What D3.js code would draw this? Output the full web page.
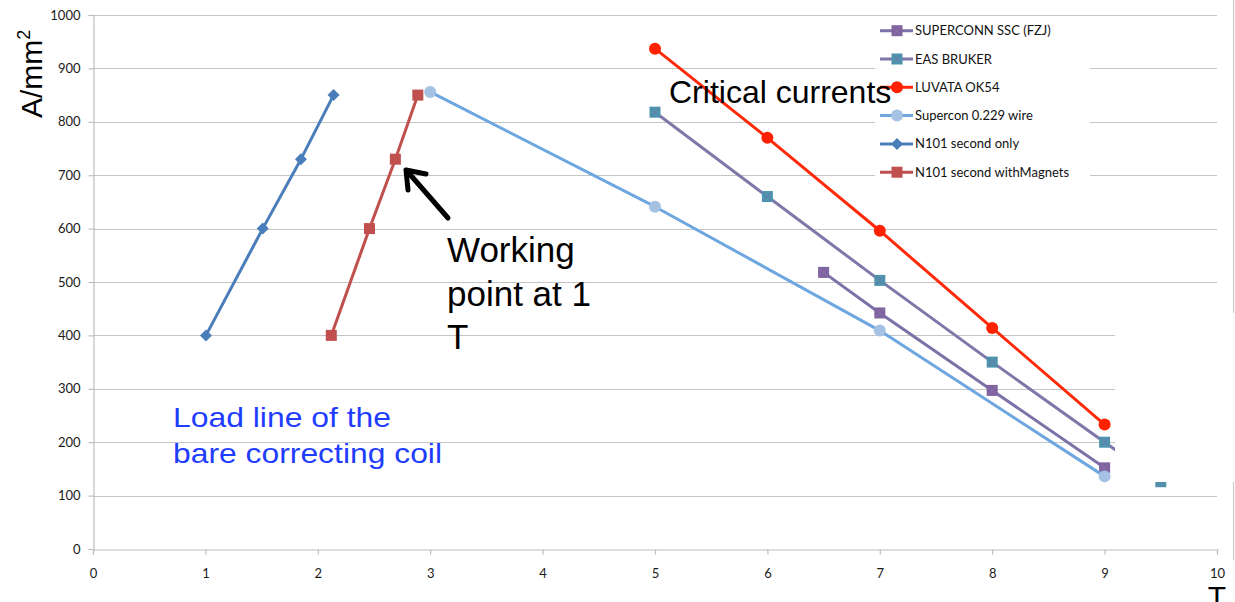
<!DOCTYPE html>
<html><head><meta charset="utf-8">
<script src="https://cdn.jsdelivr.net/npm/d3@7"></script>
<style>
html,body{margin:0;padding:0;background:#fff;}
svg{display:block;}
</style></head>
<body>
<svg id="c" width="1235" height="602"></svg>
<script>
// ---- data ----
const xTicks = [0,1,2,3,4,5,6,7,8,9,10];
const yTicks = [0,100,200,300,400,500,600,700,800,900,1000];
const seriesNames = ["SUPERCONN SSC (FZJ)","EAS BRUKER","LUVATA OK54","Supercon 0.229 wire","N101 second only","N101 second withMagnets"];
const sscX = [6.5, 7, 8, 9];
const sscY = [518, 442, 297, 152];
const easX = [5, 6, 7, 8, 9, 9.5];
const easY = [818, 660, 503, 350, 200, 126];
const luvX = [5, 6, 7, 8, 9];
const luvY = [937, 770, 596, 414, 233];
const supX = [3, 5, 7, 9];
const supY = [856, 641, 409, 136];
const n101X = [1.005, 1.51, 1.85, 2.14];
const n101Y = [400, 600, 730, 850];
const n101mX = [2.12, 2.46, 2.69, 2.89];
const n101mY = [400, 600, 730, 850];

const styles = [
  {line:"#7D72A8", fill:"#7E639F", cross:"#8E74B0", marker:"square"},
  {line:"#7D78A9", fill:"#4B96AE", cross:"#7F6FA8", marker:"square"},
  {line:"#FF2A0A", fill:"#FF2200", marker:"circle"},
  {line:"#6EA7DF", fill:"#A5C1E4", marker:"circle"},
  {line:"#4A7EBB", fill:"#4A7EBB", marker:"diamond"},
  {line:"#C0504D", fill:"#C0504D", marker:"square"}
];
const series = [
  {x:sscX,y:sscY},{x:easX,y:easY},{x:luvX,y:luvY},
  {x:supX,y:supY},{x:n101X,y:n101Y},{x:n101mX,y:n101mY}
].map((s,i)=>({name:seriesNames[i], pts:s.x.map((v,j)=>[v,s.y[j]]), st:styles[i]}));

// ---- chart ----
const svg = d3.select("#c");
const x = d3.scaleLinear().domain([0,10]).range([93,1217]);
const y = d3.scaleLinear().domain([0,1000]).range([549,15]);
const tickFont = "Lato, 'Open Sans', sans-serif";

// gridlines
svg.append("g").selectAll("line").data(yTicks.filter(d=>d>0)).join("line")
  .attr("x1",x(0)).attr("x2",x(10))
  .attr("y1",d=>Math.round(y(d))+0.5).attr("y2",d=>Math.round(y(d))+0.5)
  .attr("stroke","#C4C4C4").attr("stroke-width",1.2);

// axes
const xAxis = svg.append("g").attr("transform",`translate(0,${Math.round(y(0))+0.5})`)
  .call(d3.axisBottom(x).tickValues(xTicks).tickSize(5).tickPadding(14).tickFormat(d3.format("d")));
const yAxis = svg.append("g").attr("transform",`translate(${Math.round(x(0))+0.5},0)`)
  .call(d3.axisLeft(y).tickValues(yTicks).tickSize(5).tickPadding(8).tickFormat(d3.format("d")));
[xAxis,yAxis].forEach(a=>{
  a.select(".domain").attr("stroke","#BEBEBE").attr("stroke-width",1.2);
  a.selectAll(".tick line").attr("stroke","#BEBEBE").attr("stroke-width",1.2);
  a.selectAll(".tick text").attr("fill","#1a1a1a").style("font-family",tickFont).style("font-size","13px");
});

// series
const line = d3.line().x(d=>x(d[0])).y(d=>y(d[1]));
function drawMarker(g, st, cx, cy){
  if(st.marker==="square"){
    g.append("rect").attr("x",cx-5.5).attr("y",cy-5.5).attr("width",11).attr("height",11).attr("fill",st.fill);
    if(st.cross){
      g.append("path").attr("d",`M${cx-4.5},${cy-4.5}L${cx+4.5},${cy+4.5}M${cx+4.5},${cy-4.5}L${cx-4.5},${cy+4.5}`)
        .attr("stroke",st.cross).attr("stroke-width",1).attr("opacity",0.8);
    }
  } else if(st.marker==="circle"){
    g.append("circle").attr("cx",cx).attr("cy",cy).attr("r",6).attr("fill",st.fill);
  } else {
    g.append("path").attr("d",`M${cx},${cy-6}L${cx+6},${cy}L${cx},${cy+6}L${cx-6},${cy}Z`).attr("fill",st.fill);
  }
}
series.forEach(s=>{
  const g = svg.append("g");
  g.append("path").attr("d",line(s.pts)).attr("fill","none")
    .attr("stroke",s.st.line).attr("stroke-width",3).attr("stroke-linejoin","round");
  s.pts.forEach(p=>drawMarker(g,s.st,x(p[0]),y(p[1])));
});

// white patch that hides part of the right side in the original
svg.append("rect").attr("x",1115).attr("y",313).attr("width",130).attr("height",169).attr("fill","#fff");
// thin frame edge on the right
svg.append("line").attr("x1",1233.5).attr("x2",1233.5).attr("y1",0).attr("y2",313).attr("stroke","#C8C8C8");
svg.append("line").attr("x1",1233.5).attr("x2",1233.5).attr("y1",482).attr("y2",560).attr("stroke","#C8C8C8");

// legend
const lg = svg.append("g");
lg.append("rect").attr("x",875).attr("y",20).attr("width",215).attr("height",170).attr("fill","#fff");
series.forEach((s,i)=>{
  const ly = 30.7 + i*28.3;
  lg.append("line").attr("x1",880).attr("x2",913).attr("y1",ly).attr("y2",ly)
    .attr("stroke",s.st.line).attr("stroke-width",3);
  drawMarker(lg,s.st,897,ly);
  lg.append("text").attr("x",915).attr("y",ly).attr("dy","0.35em")
    .style("font-family",tickFont).style("font-size","13px").attr("fill","#111").text(s.name);
});

// annotations
const arial = "'Liberation Sans', Arial, sans-serif";
svg.append("text").attr("x",669).attr("y",103).style("font-family",arial).style("font-size","32px")
  .attr("fill","#000").text("Critical currents");
const wp = svg.append("text").style("font-family",arial).style("font-size","35px").attr("fill","#000");
["Working","point at 1","T"].forEach((t,i)=>wp.append("tspan").attr("x",447).attr("y",262+i*43.5).text(t));
const ll = svg.append("text").style("font-family",arial).style("font-size","28px").attr("fill","#1F3DFF");
ll.append("tspan").attr("x",173).attr("y",427).attr("textLength",218).attr("lengthAdjust","spacingAndGlyphs").text("Load line of the");
ll.append("tspan").attr("x",173).attr("y",463).attr("textLength",269).attr("lengthAdjust","spacingAndGlyphs").text("bare correcting coil");

// arrow
svg.append("path").attr("d","M448,218L407,171").attr("stroke","#000").attr("stroke-width",5).attr("stroke-linecap","round").attr("fill","none");
svg.append("path").attr("d","M408,190L406,170L426,174").attr("stroke","#000").attr("stroke-width",5)
  .attr("stroke-linecap","round").attr("stroke-linejoin","round").attr("fill","none");

// axis titles
const yl = svg.append("text").attr("transform","translate(42,118) rotate(-90)")
  .style("font-family",arial).style("font-size","30px").attr("fill","#000");
yl.append("tspan").text("A/mm");
yl.append("tspan").attr("dy",-12).style("font-size","18px").text("2");
svg.append("text").attr("x",1217).attr("y",607).attr("text-anchor","middle")
  .style("font-family",arial).style("font-size","30px").attr("fill","#000").text("T");
</script>
</body></html>
